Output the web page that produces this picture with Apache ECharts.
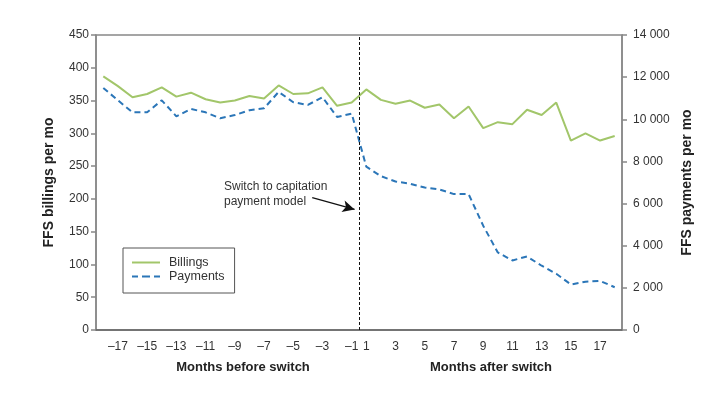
<!DOCTYPE html>
<html><head><meta charset="utf-8">
<script src="https://cdn.jsdelivr.net/npm/echarts@6/dist/echarts.min.js"></script>
<style>html,body{margin:0;padding:0;background:#fff}#c{width:724px;height:406px}</style>
</head><body><div id="c"></div>
<script>
var months = [-18,-17,-16,-15,-14,-13,-12,-11,-10,-9,-8,-7,-6,-5,-4,-3,-2,-1,1,2,3,4,5,6,7,8,9,10,11,12,13,14,15,16,17,18];
var billings = [387,372,355,360,370,356,362,352,347,350,357,353,373,360,361,370,342,347,367,351,345,350,339,344,323,341,308,317,314,336,328,347,289,300,289,296];
var payments = [11490,10900,10330,10330,10900,10140,10490,10330,10050,10200,10430,10520,11300,10810,10680,11050,10110,10270,7750,7300,7050,6940,6760,6670,6450,6450,4950,3680,3300,3490,3050,2670,2160,2290,2330,2030];
var leftTicks = [0,50,100,150,200,250,300,350,400,450];
var rightTicks = [0,2000,4000,6000,8000,10000,12000,14000];
var switchPos = 17.5;
var arrowFrom = [14.3, 202], arrowTo = [17.2, 184];

var font = '"Liberation Sans", Arial, sans-serif';
var chart = echarts.init(document.getElementById('c'));
var isOdd = function (i, v) { return Math.abs(+v) % 2 === 1; };
var solidIcon = 'path://M0,0h28v2h-28z';
var dashIcon = 'path://M0,0h6v2h-6z M10,0h8v2h-8z M22,0h6v2h-6z';
chart.setOption({
  animation: false,
  textStyle: { fontFamily: font },
  grid: { left: 96, right: 102, top: 35, bottom: 76, show: true, borderColor: '#888', borderWidth: 1.5 },
  legend: {
    orient: 'vertical', left: 123, top: 248,
    padding: [8, 10, 10, 9], itemGap: 1, itemWidth: 28, itemHeight: 12,
    borderColor: '#555', borderWidth: 1,
    textStyle: { fontSize: 12.5, color: '#333', fontFamily: font, padding: [0, 0, 0, 4] },
    data: [{ name: 'Billings', icon: solidIcon }, { name: 'Payments', icon: dashIcon }]
  },
  title: [
    { text: 'Months before switch', left: 238, top: 356, textAlign: 'center',
      textStyle: { fontSize: 13, fontWeight: 'bold', color: '#222', fontFamily: font } },
    { text: 'Months after switch', left: 486, top: 356, textAlign: 'center',
      textStyle: { fontSize: 13, fontWeight: 'bold', color: '#222', fontFamily: font } }
  ],
  xAxis: [{
    type: 'category', data: months, boundaryGap: true,
    axisLine: { onZero: false, lineStyle: { color: '#666', width: 1.5 } },
    axisTick: { alignWithLabel: true, interval: isOdd, length: 6, lineStyle: { color: '#888', width: 1.5 } },
    axisLabel: { interval: isOdd, fontSize: 12, color: '#333', margin: 11,
      formatter: function (v) { return String(v).replace('-', '\u2013'); } }
  }, {
    type: 'value', min: -0.5, max: 35.5, show: false
  }],
  yAxis: [{
    type: 'value', min: 0, max: 450, interval: 50,
    name: 'FFS billings per mo', nameLocation: 'middle', nameRotate: 90, nameGap: 40,
    nameTextStyle: { fontSize: 14, fontWeight: 'bold', color: '#222' },
    axisLine: { show: true, onZero: false, lineStyle: { color: '#888', width: 1.5 } },
    axisTick: { show: true, length: 5, lineStyle: { color: '#888', width: 1.5 } },
    axisLabel: { fontSize: 12, color: '#333', margin: 7 },
    splitLine: { show: false }
  }, {
    type: 'value', min: 0, max: 14000, interval: 2000, position: 'right',
    name: 'FFS payments per mo', nameLocation: 'middle', nameRotate: 90, nameGap: 52,
    nameTextStyle: { fontSize: 14, fontWeight: 'bold', color: '#222' },
    axisLine: { show: true, onZero: false, lineStyle: { color: '#888', width: 1.5 } },
    axisTick: { show: true, length: 5, lineStyle: { color: '#888', width: 1.5 } },
    axisLabel: { fontSize: 12, color: '#333', margin: 11,
      formatter: function (v) { return String(v).replace(/\B(?=(\d{3})+(?!\d))/g, ' '); } },
    splitLine: { show: false }
  }],
  series: [{
    name: 'Billings', type: 'line', data: billings, yAxisIndex: 0,
    symbol: 'none', lineStyle: { color: '#a2c66a', width: 2 }, itemStyle: { color: '#a2c66a' }
  }, {
    name: 'Payments', type: 'line', data: payments, yAxisIndex: 1,
    symbol: 'none', lineStyle: { color: '#2b76b8', width: 2, type: [6, 4] }, itemStyle: { color: '#2b76b8' }
  }, {
    name: 'annot', type: 'line', xAxisIndex: 1, yAxisIndex: 0, data: [], silent: true,
    markLine: {
      silent: true, animation: false, label: { show: false },
      lineStyle: { color: '#111', width: 1, type: [3, 2] },
      data: [
        [{ coord: [switchPos, 0], symbol: 'none' }, { coord: [switchPos, 450], symbol: 'none' }],
        [{ coord: arrowFrom, symbol: 'none', lineStyle: { type: 'solid', width: 1.2, color: '#111' } },
         { coord: arrowTo, symbol: 'arrow', symbolSize: [9, 12] }]
      ]
    }
  }],
  graphic: [{
    type: 'text', left: 224, top: 179,
    style: { text: 'Switch to capitation\npayment model', fontSize: 12, lineHeight: 15, fill: '#333', fontFamily: font }
  }]
});
</script></body></html>
